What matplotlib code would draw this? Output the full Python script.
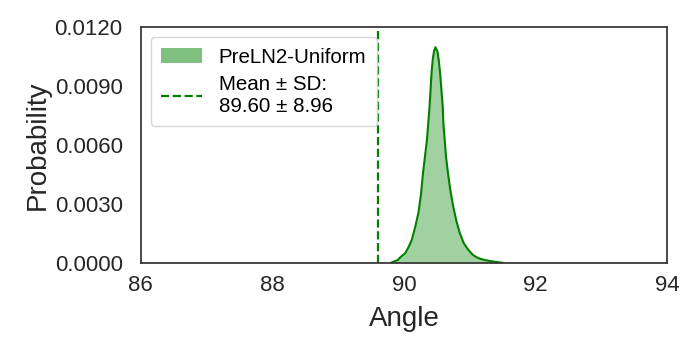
import matplotlib
matplotlib.use("Agg")
import matplotlib.pyplot as plt
from matplotlib.patches import Patch
from matplotlib.lines import Line2D

plt.rcParams['font.family'] = ['Liberation Sans', 'DejaVu Sans']

# curve (angle, probability)
angle = [89.80, 89.91, 89.95, 90.02, 90.07, 90.12, 90.17, 90.22, 90.26, 90.29,
         90.32, 90.35, 90.39, 90.42, 90.44, 90.46, 90.48, 90.51, 90.53, 90.55,
         90.57, 90.59, 90.60, 90.62, 90.64, 90.67, 90.71, 90.75, 90.80, 90.85,
         90.91, 90.98, 91.05, 91.13, 91.22, 91.33, 91.50]
prob = [0.0, 0.00015, 0.00030, 0.00049, 0.00080, 0.00117, 0.00180, 0.00253,
        0.00350, 0.00456, 0.00540, 0.00625, 0.00795, 0.00965, 0.01040, 0.01080,
        0.01097, 0.01075, 0.01030, 0.00965, 0.00880, 0.00795, 0.00710, 0.00625,
        0.00540, 0.00456, 0.00360, 0.00286, 0.00210, 0.00151, 0.00100, 0.00066,
        0.00040, 0.00024, 0.00015, 0.00008, 0.0]
mean_angle = 89.60
sd_angle = 8.96
label = "PreLN2-Uniform"
xticks = [86, 88, 90, 92, 94]
yticks = [0.0, 0.003, 0.006, 0.009, 0.012]

fig = plt.figure(figsize=(7, 3.5), dpi=100)
ax = fig.add_axes([0.201, 0.249, 0.752, 0.674])

ax.fill_between(angle, prob, color='green', alpha=0.37, linewidth=0)
ax.plot(angle, prob, color='green', lw=1.5)
ax.axvline(mean_angle, color='green', ls='--', lw=1.6)

ax.set_xlim(86, 94)
ax.set_ylim(0, 0.012)
ax.set_xticks(xticks)
ax.set_yticks(yticks)
ax.set_yticklabels(["%.4f" % v for v in yticks])
ax.tick_params(labelsize=16, length=0, colors='#262626')
ax.tick_params(axis='x', pad=9)
ax.tick_params(axis='y', pad=13)
ax.set_xlabel("Angle", fontsize=20, color='#262626', labelpad=7)
ax.set_ylabel("Probability", fontsize=20, color='#262626', labelpad=3)
for s in ax.spines.values():
    s.set_color('#333333')
    s.set_linewidth(1.25)

handles = [Patch(facecolor='green', alpha=0.5, edgecolor='none'),
           Line2D([0], [0], color='green', ls='--', lw=1.6)]
labels = [label, "Mean ± SD:\n%.2f ± %.2f" % (mean_angle, sd_angle)]
ax.legend(handles, labels, loc='upper left', fontsize=14.8, frameon=True,
          edgecolor='#cccccc', borderpad=0.5, handlelength=2.0,
          labelspacing=0.4)

fig.savefig("out.png", dpi=100)
